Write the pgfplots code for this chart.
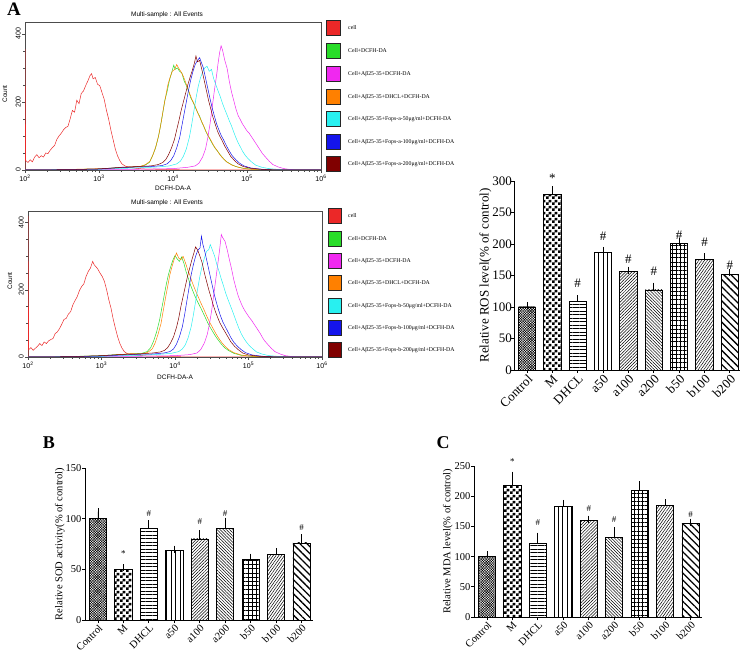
\documentclass[border=0pt]{standalone}
\usepackage{fontspec}
\setmainfont{Liberation Serif}
\newfontfamily\arial{Liberation Sans}
\usepackage{pgfplots}
\pgfplotsset{compat=1.18}
\usetikzlibrary{patterns,patterns.meta}

\pgfdeclarepatternformonly{bigcheck}{\pgfpointorigin}{\pgfqpoint{6pt}{6pt}}{\pgfqpoint{6pt}{6pt}}{%
 \pgfpathrectangle{\pgfpointorigin}{\pgfqpoint{3pt}{3pt}}%
 \pgfpathrectangle{\pgfqpoint{3pt}{3pt}}{\pgfqpoint{3pt}{3pt}}%
 \pgfusepath{fill}}

\definecolor{cRed}{RGB}{235,40,40}
\definecolor{cGreen}{RGB}{40,220,40}
\definecolor{cMag}{RGB}{240,40,240}
\definecolor{cOra}{RGB}{255,128,0}
\definecolor{cCya}{RGB}{40,240,240}
\definecolor{cBlu}{RGB}{20,20,235}
\definecolor{cDRed}{RGB}{128,0,0}

\pgfplotsset{
 hist/.style={scale only axis, anchor=south west, xmin=2, xmax=6, ymin=0, ymax=435,
  xtick={2,3,4,5,6},
  xticklabels={10\textsuperscript{2},10\textsuperscript{3},10\textsuperscript{4},10\textsuperscript{5},10\textsuperscript{6}},
  minor xtick={2.301,2.477,2.602,2.699,2.778,2.845,2.903,2.954,3.301,3.477,3.602,3.699,3.778,3.845,3.903,3.954,4.301,4.477,4.602,4.699,4.778,4.845,4.903,4.954,5.301,5.477,5.602,5.699,5.778,5.845,5.903,5.954},
  ytick={0,200,400}, minor ytick={50,100,150,250,300,350},
  tick align=outside, tick pos=left, major tick length=3pt, minor tick length=1.8pt,
  axis line style={line width=0.6pt, black!70}, tick style={black!70, line width=0.5pt},
  yticklabel style={rotate=90, anchor=south, inner sep=1pt},
  xticklabel style={inner sep=1.5pt},
  ticklabel style={font=\arial\fontsize{7}{8}\selectfont},
  /pgf/number format/assume math mode=true,
  every axis plot/.append style={line width=0.5pt, no marks},
 },
 barc/.style={scale only axis, anchor=south west, clip=false,
  axis x line*=bottom, axis y line*=left, axis line style={line width=0.8pt, -},
  xmin=-0.51, xmax=8.45, ymin=0,
  xtick={0,...,8}, xticklabels={Control,M,DHCL,a50,a100,a200,b50,b100,b200},
  xticklabel style={rotate=45, anchor=north east, inner sep=0.5pt},
  yticklabel style={inner sep=0.5pt},
  tick align=outside, major tick length=3pt, tick style={black, line width=0.8pt},
  /pgf/number format/assume math mode=true,
  ybar, bar width=0.68, bar shift=0pt,
  error bars/y dir=plus, error bars/y explicit,
  error bars/error bar style={line width=0.8pt, black},
  error bars/error mark options={line width=0.8pt, black, mark size=3.5pt},
  every axis plot/.append style={draw=black, line width=0.8pt},
 },
}

\begin{document}
\begin{tikzpicture}[x=1pt,y=1pt]
\path[use as bounding box] (0,0) rectangle (746,661);

% ---------- Histogram 1 ----------
\begin{axis}[hist, at={(25pt,491pt)}, width=296pt, height=148pt]
\addplot[cRed] coordinates {(2.0,0)(2.0,355)(2.01,28)(2.04,22)(2.07,30)(2.1,24)(2.13,38)(2.16,45)(2.19,36)(2.22,42)(2.25,38)(2.28,50)(2.31,48)(2.34,58)(2.37,66)(2.4,72)(2.43,90)(2.46,100)(2.49,108)(2.52,118)(2.55,125)(2.58,128)(2.61,150)(2.64,175)(2.67,170)(2.7,205)(2.73,195)(2.76,225)(2.79,232)(2.82,248)(2.85,262)(2.88,278)(2.9,283)(2.92,268)(2.95,272)(2.98,252)(3.01,248)(3.04,228)(3.07,208)(3.1,176)(3.13,150)(3.16,118)(3.19,90)(3.22,62)(3.25,42)(3.28,28)(3.31,18)(3.35,12)(3.4,8)(3.5,5)(3.6,3)(3.8,2)(4.0,1)(4.3,0)(6,0)};
\addplot[cGreen] coordinates {(2.0,0)(2.5,1)(3.0,3)(3.2,6)(3.4,8)(3.55,10)(3.62,14)(3.68,22)(3.72,40)(3.76,62)(3.8,95)(3.83,128)(3.86,165)(3.89,205)(3.92,230)(3.95,262)(3.98,285)(4.01,308)(4.03,296)(4.06,300)(4.09,290)(4.12,285)(4.15,262)(4.18,248)(4.21,232)(4.24,212)(4.27,200)(4.3,185)(4.33,170)(4.36,158)(4.39,140)(4.42,126)(4.45,110)(4.48,98)(4.51,86)(4.54,74)(4.57,64)(4.6,56)(4.64,44)(4.68,34)(4.72,25)(4.78,17)(4.85,10)(4.95,5)(5.1,2)(5.3,0)(6,0)};
\addplot[cOra] coordinates {(2.0,0)(2.5,1)(3.0,4)(3.2,5)(3.4,9)(3.55,10)(3.63,16)(3.69,26)(3.73,45)(3.77,70)(3.81,105)(3.84,140)(3.87,180)(3.9,215)(3.93,250)(3.96,272)(3.99,290)(4.02,295)(4.05,310)(4.08,298)(4.11,288)(4.14,275)(4.17,258)(4.2,240)(4.23,222)(4.26,205)(4.29,192)(4.32,176)(4.35,160)(4.38,146)(4.41,132)(4.44,116)(4.47,103)(4.5,92)(4.53,80)(4.56,68)(4.6,56)(4.64,43)(4.68,33)(4.73,23)(4.8,14)(4.9,7)(5.0,3)(5.2,0)(6,0)};
\addplot[cMag] coordinates {(2.0,0)(3.5,2)(4.0,4)(4.2,8)(4.3,12)(4.35,20)(4.4,38)(4.44,62)(4.47,95)(4.5,135)(4.53,185)(4.56,235)(4.59,280)(4.61,315)(4.63,345)(4.65,365)(4.67,352)(4.7,322)(4.73,300)(4.76,262)(4.79,230)(4.82,205)(4.85,180)(4.88,160)(4.91,148)(4.94,135)(4.97,125)(5.0,115)(5.03,108)(5.06,98)(5.09,88)(5.12,78)(5.15,68)(5.18,58)(5.21,48)(5.25,38)(5.3,26)(5.35,16)(5.42,9)(5.5,4)(5.6,1)(5.7,0)(6,0)};
\addplot[cCya] coordinates {(2.0,0)(3.0,2)(3.5,6)(3.8,9)(3.95,12)(4.05,18)(4.1,26)(4.14,40)(4.18,62)(4.22,95)(4.25,130)(4.28,170)(4.31,210)(4.34,245)(4.37,270)(4.4,288)(4.43,300)(4.46,305)(4.49,290)(4.52,296)(4.55,268)(4.58,250)(4.61,232)(4.64,215)(4.67,195)(4.7,178)(4.73,162)(4.76,145)(4.79,130)(4.82,112)(4.85,95)(4.88,80)(4.91,68)(4.94,55)(4.98,42)(5.02,32)(5.07,22)(5.12,14)(5.2,8)(5.3,4)(5.45,1)(5.6,0)(6,0)};
\addplot[cBlu] coordinates {(2.0,0)(2.6,1)(3.0,3)(3.3,7)(3.5,9)(3.7,10)(3.85,13)(3.92,18)(3.97,28)(4.01,42)(4.05,65)(4.09,95)(4.12,130)(4.15,165)(4.18,200)(4.21,235)(4.24,265)(4.27,290)(4.3,310)(4.33,322)(4.36,330)(4.38,318)(4.41,300)(4.44,270)(4.47,240)(4.5,210)(4.53,182)(4.56,158)(4.59,135)(4.62,118)(4.65,102)(4.68,90)(4.72,72)(4.76,56)(4.8,42)(4.85,30)(4.9,20)(4.96,12)(5.05,6)(5.2,2)(5.4,0)(6,0)};
\addplot[cDRed] coordinates {(2.0,0)(2.6,1)(3.0,3)(3.3,8)(3.5,10)(3.7,12)(3.8,16)(3.86,22)(3.9,30)(3.94,45)(3.98,65)(4.02,90)(4.05,118)(4.08,145)(4.11,175)(4.14,200)(4.17,225)(4.2,250)(4.23,272)(4.26,292)(4.29,315)(4.31,335)(4.33,318)(4.36,322)(4.39,295)(4.42,265)(4.45,235)(4.48,205)(4.51,180)(4.54,155)(4.57,135)(4.6,115)(4.63,100)(4.66,88)(4.7,70)(4.74,55)(4.78,40)(4.83,28)(4.88,18)(4.95,10)(5.05,5)(5.2,2)(5.4,0)(6,0)};
\end{axis}

% ---------- Histogram 2 ----------
\begin{axis}[hist, at={(28pt,304pt)}, width=294pt, height=146pt]
\addplot[cRed] coordinates {(2.0,0)(2.0,420)(2.01,22)(2.04,28)(2.07,20)(2.1,26)(2.13,32)(2.16,40)(2.19,34)(2.22,45)(2.25,40)(2.28,48)(2.31,52)(2.34,55)(2.37,70)(2.4,75)(2.43,85)(2.46,98)(2.49,112)(2.52,115)(2.55,128)(2.58,135)(2.61,155)(2.64,168)(2.67,180)(2.7,198)(2.73,210)(2.76,218)(2.79,240)(2.82,255)(2.85,265)(2.88,285)(2.9,275)(2.92,270)(2.95,262)(2.98,250)(3.01,240)(3.04,225)(3.07,200)(3.1,170)(3.13,145)(3.16,112)(3.19,85)(3.22,60)(3.25,40)(3.28,26)(3.31,16)(3.35,10)(3.4,7)(3.5,5)(3.6,3)(3.8,2)(4.0,1)(4.3,0)(6,0)};
\addplot[cGreen] coordinates {(2,0)(2.5,1)(3.0,4)(3.2,7)(3.4,9)(3.55,11)(3.62,16)(3.67,28)(3.71,48)(3.75,75)(3.79,110)(3.82,145)(3.85,180)(3.88,215)(3.91,245)(3.94,268)(3.97,288)(4.0,302)(4.03,292)(4.06,285)(4.09,298)(4.12,280)(4.15,255)(4.18,235)(4.21,215)(4.24,198)(4.27,182)(4.3,168)(4.33,155)(4.36,142)(4.39,128)(4.42,114)(4.45,100)(4.48,88)(4.51,77)(4.54,66)(4.57,56)(4.6,47)(4.64,36)(4.68,27)(4.73,19)(4.8,11)(4.9,5)(5.05,2)(5.3,0)(6,0)};
\addplot[cOra] coordinates {(2,0)(2.5,1)(3.0,3)(3.2,6)(3.4,10)(3.55,9)(3.63,14)(3.69,24)(3.73,42)(3.77,68)(3.81,100)(3.84,138)(3.87,175)(3.9,210)(3.93,245)(3.96,270)(3.99,292)(4.02,310)(4.05,295)(4.08,290)(4.11,300)(4.14,282)(4.17,262)(4.2,245)(4.23,225)(4.26,208)(4.29,192)(4.32,177)(4.35,162)(4.38,148)(4.41,133)(4.44,118)(4.47,104)(4.5,92)(4.53,80)(4.56,68)(4.6,54)(4.64,42)(4.68,32)(4.73,22)(4.8,13)(4.9,6)(5.0,3)(5.2,0)(6,0)};
\addplot[cMag] coordinates {(2,0)(3.5,2)(4.0,4)(4.2,7)(4.3,12)(4.35,22)(4.4,42)(4.44,68)(4.47,100)(4.5,140)(4.53,190)(4.56,240)(4.59,290)(4.61,325)(4.63,365)(4.65,355)(4.68,345)(4.71,320)(4.74,290)(4.77,262)(4.8,230)(4.83,205)(4.86,182)(4.89,165)(4.92,150)(4.95,138)(4.98,128)(5.01,118)(5.04,110)(5.07,100)(5.1,90)(5.13,80)(5.16,70)(5.19,58)(5.22,48)(5.26,38)(5.31,26)(5.36,16)(5.43,9)(5.5,4)(5.6,1)(5.7,0)(6,0)};
\addplot[cCya] coordinates {(2,0)(3.0,2)(3.5,5)(3.8,8)(3.95,11)(4.05,16)(4.1,24)(4.14,36)(4.18,58)(4.22,90)(4.25,125)(4.28,165)(4.31,205)(4.34,242)(4.37,272)(4.4,295)(4.43,315)(4.46,320)(4.48,335)(4.51,318)(4.54,300)(4.57,275)(4.6,255)(4.63,232)(4.66,212)(4.69,190)(4.72,172)(4.75,155)(4.78,138)(4.81,120)(4.84,102)(4.87,85)(4.9,70)(4.93,58)(4.97,45)(5.01,34)(5.06,24)(5.11,15)(5.18,9)(5.28,4)(5.45,1)(5.6,0)(6,0)};
\addplot[cBlu] coordinates {(2,0)(2.6,1)(3.0,3)(3.3,6)(3.5,8)(3.7,9)(3.85,12)(3.93,16)(3.98,24)(4.02,38)(4.06,60)(4.1,90)(4.13,125)(4.16,165)(4.19,205)(4.22,245)(4.25,275)(4.28,300)(4.31,318)(4.34,325)(4.36,360)(4.38,335)(4.41,310)(4.44,280)(4.47,250)(4.5,220)(4.53,190)(4.56,165)(4.59,142)(4.62,122)(4.65,105)(4.68,92)(4.72,75)(4.76,58)(4.8,44)(4.85,32)(4.9,22)(4.96,13)(5.05,6)(5.2,2)(5.4,0)(6,0)};
\addplot[cDRed] coordinates {(2,0)(2.6,1)(3.0,4)(3.3,8)(3.5,9)(3.7,12)(3.8,15)(3.86,20)(3.9,28)(3.94,42)(3.98,60)(4.02,88)(4.05,115)(4.08,150)(4.11,180)(4.14,210)(4.17,240)(4.2,265)(4.23,290)(4.26,312)(4.28,328)(4.31,318)(4.34,300)(4.37,280)(4.4,250)(4.43,225)(4.46,200)(4.49,178)(4.52,155)(4.55,135)(4.58,118)(4.61,102)(4.64,90)(4.68,75)(4.72,60)(4.76,45)(4.81,32)(4.86,22)(4.92,12)(5.0,6)(5.15,2)(5.4,0)(6,0)};
\end{axis}

% histogram texts
\begin{scope}[font=\arial\fontsize{6.5}{7.5}\selectfont]
\node at (167,646) {Multi-sample : All Events};
\node at (167,458) {Multi-sample : All Events};
\node at (173,473) {DCFH-DA-A};
\node at (175,284) {DCFH-DA-A};
\node[rotate=90] at (5,567) {Count};
\node[rotate=90] at (10,380) {Count};
\end{scope}

% legends
\begin{scope}[line width=1pt]
\foreach \c/\yy in {cRed/28,cGreen/51,cMag/74,cOra/97,cCya/119,cBlu/142,cDRed/164}{
  \draw[draw=black!85, fill=\c] (326,661-\yy-7.5) rectangle (340,661-\yy+7.5);}
\foreach \c/\yy in {cRed/216,cGreen/239,cMag/261,cOra/283,cCya/306,cBlu/328,cDRed/350}{
  \draw[draw=black!85, fill=\c] (328,661-\yy-7.5) rectangle (341,661-\yy+7.5);}
\end{scope}
\begin{scope}[font=\fontsize{5.8}{6.5}\selectfont, inner sep=0pt]
\node[anchor=west] at (348,633) {cell};
\node[anchor=west] at (348,610) {Cell+DCFH-DA};
\node[anchor=west] at (348,587) {Cell+Aβ25-35+DCFH-DA};
\node[anchor=west] at (348,564) {Cell+Aβ25-35+DHCL+DCFH-DA};
\node[anchor=west] at (348,542) {Cell+Aβ25-35+Fops-a-50μg/ml+DCFH-DA};
\node[anchor=west] at (348,519) {Cell+Aβ25-35+Fops-a-100μg/ml+DCFH-DA};
\node[anchor=west] at (348,497) {Cell+Aβ25-35+Fops-a-200μg/ml+DCFH-DA};
\node[anchor=west] at (348,445) {cell};
\node[anchor=west] at (348,422) {Cell+DCFH-DA};
\node[anchor=west] at (348,400) {Cell+Aβ25-35+DCFH-DA};
\node[anchor=west] at (348,378) {Cell+Aβ25-35+DHCL+DCFH-DA};
\node[anchor=west] at (348,355) {Cell+Aβ25-35+Fops-b-50μg/ml+DCFH-DA};
\node[anchor=west] at (348,333) {Cell+Aβ25-35+Fops-b-100μg/ml+DCFH-DA};
\node[anchor=west] at (348,311) {Cell+Aβ25-35+Fops-b-200μg/ml+DCFH-DA};
\end{scope}

% ---------- ROS ----------
\begin{axis}[barc, at={(514pt,291pt)}, width=226pt, height=189pt, ymax=300,
  xmax=8.4, ytick={0,50,...,300},
  ticklabel style={font=\fontsize{13}{14}\selectfont},
  yticklabel style={xshift=1.5pt},
  ylabel={Relative ROS level(\% of control)},
  ylabel style={font=\fontsize{13}{14}\selectfont, yshift=-3pt}]
\addplot[pattern={Hatch[angle=45,distance=1.8pt,line width=0.45pt]}] coordinates {(0,100) +- (0,2)};
\addplot[pattern=bigcheck] coordinates {(1,279) +- (0,7)};
\addplot[pattern={Lines[angle=0,distance=3.5pt,line width=0.6pt]}] coordinates {(2,109) +- (0,4)};
\addplot[pattern={Lines[angle=90,distance=4.5pt,line width=0.6pt]}] coordinates {(3,186) +- (0,4)};
\addplot[pattern={Lines[angle=45,distance=2.2pt,line width=0.5pt]}] coordinates {(4,157) +- (0,1.5)};
\addplot[pattern={Lines[angle=-45,distance=2.2pt,line width=0.5pt]}] coordinates {(5,127) +- (0,6)};
\addplot[pattern={Hatch[angle=0,distance=4.2pt,line width=0.6pt]}] coordinates {(6,201) +- (0,3)};
\addplot[pattern={Lines[angle=55,distance=2.3pt,line width=0.5pt]}] coordinates {(7,176) +- (0,4)};
\addplot[pattern={Lines[angle=-45,distance=5pt,line width=1.3pt]}] coordinates {(8,151) +- (0,3)};
\begin{scope}[font=\fontsize{13}{14}\selectfont]
\node at (axis cs:1,305) {*};
\node at (axis cs:2,138) {\#};
\node at (axis cs:3,213) {\#};
\node at (axis cs:4,176) {\#};
\node at (axis cs:5,156) {\#};
\node at (axis cs:6,214) {\#};
\node at (axis cs:7,203) {\#};
\node at (axis cs:8,167) {\#};
\end{scope}
\end{axis}

% ---------- SOD ----------
\begin{axis}[barc, at={(85pt,41pt)}, width=228pt, height=152pt, ymax=150,
  ytick={0,50,100,150},
  ticklabel style={font=\fontsize{10.5}{12}\selectfont},
  ylabel={Relative SOD activity(\% of control)},
  ylabel style={font=\fontsize{10.5}{12}\selectfont, yshift=-3pt}]
\addplot[pattern={Hatch[angle=45,distance=1.8pt,line width=0.45pt]}] coordinates {(0,100) +- (0,7)};
\addplot[pattern=bigcheck] coordinates {(1,50) +- (0,1.5)};
\addplot[pattern={Lines[angle=0,distance=3.5pt,line width=0.6pt]}] coordinates {(2,90) +- (0,5)};
\addplot[pattern={Lines[angle=90,distance=4.5pt,line width=0.6pt]}] coordinates {(3,69) +- (0,1)};
\addplot[pattern={Lines[angle=45,distance=2.2pt,line width=0.5pt]}] coordinates {(4,80) +- (0,5)};
\addplot[pattern={Lines[angle=-45,distance=2.2pt,line width=0.5pt]}] coordinates {(5,90) +- (0,7.5)};
\addplot[pattern={Hatch[angle=0,distance=4.2pt,line width=0.6pt]}] coordinates {(6,60) +- (0,2)};
\addplot[pattern={Lines[angle=55,distance=2.3pt,line width=0.5pt]}] coordinates {(7,65) +- (0,2.5)};
\addplot[pattern={Lines[angle=-45,distance=5pt,line width=1.3pt]}] coordinates {(8,76) +- (0,5)};
\begin{scope}[font=\fontsize{9}{10}\selectfont]
\node at (axis cs:1,66) {*};
\node at (axis cs:2,104.6) {\#};
\node at (axis cs:4,96.7) {\#};
\node at (axis cs:5,104.6) {\#};
\node at (axis cs:8,90.8) {\#};
\end{scope}
\end{axis}

% ---------- MDA ----------
\begin{axis}[barc, at={(474pt,44pt)}, width=228pt, height=151pt, ymax=250,
  ytick={0,50,...,250},
  ticklabel style={font=\fontsize{10.5}{12}\selectfont},
  ylabel={Relative MDA level(\% of control)},
  ylabel style={font=\fontsize{10.5}{12}\selectfont, yshift=-2pt}]
\addplot[pattern={Hatch[angle=45,distance=1.8pt,line width=0.45pt]}] coordinates {(0,100) +- (0,3)};
\addplot[pattern=bigcheck] coordinates {(1,218) +- (0,17)};
\addplot[pattern={Lines[angle=0,distance=3.5pt,line width=0.6pt]}] coordinates {(2,122) +- (0,12)};
\addplot[pattern={Lines[angle=90,distance=4.5pt,line width=0.6pt]}] coordinates {(3,183) +- (0,5)};
\addplot[pattern={Lines[angle=45,distance=2.2pt,line width=0.5pt]}] coordinates {(4,160) +- (0,2)};
\addplot[pattern={Lines[angle=-45,distance=2.2pt,line width=0.5pt]}] coordinates {(5,132) +- (0,11)};
\addplot[pattern={Hatch[angle=0,distance=4.2pt,line width=0.6pt]}] coordinates {(6,210) +- (0,9)};
\addplot[pattern={Lines[angle=55,distance=2.3pt,line width=0.5pt]}] coordinates {(7,184) +- (0,5)};
\addplot[pattern={Lines[angle=-45,distance=5pt,line width=1.3pt]}] coordinates {(8,155) +- (0,2)};
\begin{scope}[font=\fontsize{9}{10}\selectfont]
\node at (axis cs:1,258) {*};
\node at (axis cs:2,156) {\#};
\node at (axis cs:4,180) {\#};
\node at (axis cs:5,160.6) {\#};
\node at (axis cs:8,169) {\#};
\end{scope}
\end{axis}

% panel letters
\node[font=\bfseries\fontsize{19}{20}\selectfont] at (14,652) {A};
\node[font=\bfseries\fontsize{18}{20}\selectfont] at (49,218) {B};
\node[font=\bfseries\fontsize{18}{20}\selectfont] at (443,218) {C};
\end{tikzpicture}
\end{document}
